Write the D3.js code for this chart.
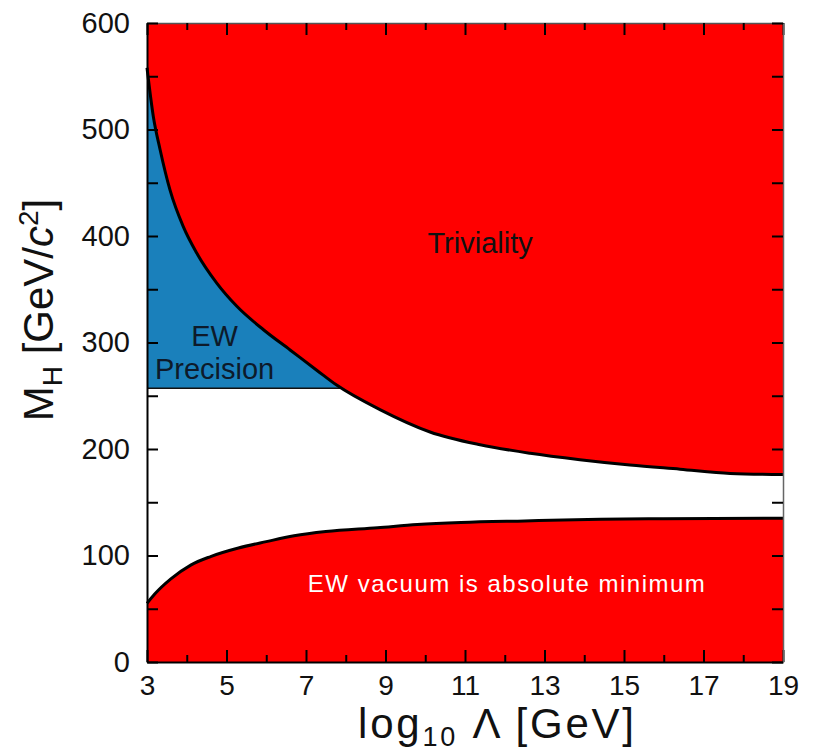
<!DOCTYPE html>
<html>
<head>
<meta charset="utf-8">
<script src="https://cdn.jsdelivr.net/npm/d3@7"></script>
<style>
body { margin:0; background:#fff; }
text { font-family: "Liberation Sans", Arial, Helvetica, sans-serif; }
</style>
</head>
<body>
<div id="chart"></div>
<script>
// triviality (upper) bound
var trivLog  = [3, 3.16, 3.33, 3.58, 3.91, 4.25, 4.75, 5.26, 5.93, 6.6, 7.27, 7.77, 8.86, 10.12, 11.38, 12.64, 13.89, 15.15, 16.41, 17.67, 19];
var trivMass = [558, 512, 481, 443, 409, 384, 356, 334, 312, 293, 274, 260, 237, 216, 204, 196, 190, 185, 181, 177, 176];
// vacuum stability (lower) bound
var vacLog  = [3, 3.2, 3.6, 4.1, 4.6, 5.3, 6, 6.7, 7.5, 8.8, 9.8, 10.9, 12.5, 14.4, 16, 19];
var vacMass = [55, 64, 78, 91, 99, 107, 113, 118.5, 122.5, 126, 129, 131, 132.5, 134, 134.5, 135];
var ewPrecision = 257;

var xMajor = [3, 5, 7, 9, 11, 13, 15, 17, 19];
var xMinor = [4, 6, 8, 10, 12, 14, 16, 18];
var yMajor = [0, 100, 200, 300, 400, 500, 600];
var yMinor = [50, 150, 250, 350, 450, 550];

var svg_width = 815, svg_height = 752;
var margin = {top: 23, left: 147, right: 32, bottom: 90};
var width = svg_width - margin.left - margin.right;
var height = svg_height - margin.top - margin.bottom;

var svg = d3.select("#chart").append("svg")
    .attr("width", svg_width)
    .attr("height", svg_height);

var g = svg.append("g")
    .attr("transform", `translate(${margin.left},${margin.top})`);

var x = d3.scaleLinear().domain([3, 19]).range([0, width]);
var y = d3.scaleLinear().domain([0, 600]).range([height, 0]);

var triv = trivLog.map((d, i) => ({l: d, m: trivMass[i]}));
var vac = vacLog.map((d, i) => ({l: d, m: vacMass[i]}));

var red = "#ff0000", blue = "#1a80bb";

// EW precision region (blue), under the triviality curve
g.append("path")
    .datum(triv)
    .attr("fill", blue)
    .attr("d", d3.area().x(d => x(d.l)).y0(y(ewPrecision)).y1(d => y(Math.max(d.m, ewPrecision))));

// triviality region
g.append("path")
    .datum(triv)
    .attr("fill", red)
    .attr("d", d3.area().x(d => x(d.l)).y0(y(600)).y1(d => y(d.m)).curve(d3.curveMonotoneX));

// vacuum region
g.append("path")
    .datum(vac)
    .attr("fill", red)
    .attr("d", d3.area().x(d => x(d.l)).y0(y(0)).y1(d => y(d.m)).curve(d3.curveMonotoneX));

// EW precision edge
var crossL = 7.9;
g.append("line")
    .attr("x1", x(3)).attr("x2", x(crossL))
    .attr("y1", y(ewPrecision)).attr("y2", y(ewPrecision))
    .attr("stroke", "#111").attr("stroke-width", 1.5);

var line = d3.line().x(d => x(d.l)).y(d => y(d.m)).curve(d3.curveMonotoneX);
g.append("path").datum(triv).attr("fill", "none").attr("stroke", "#000").attr("stroke-width", 3).attr("d", line);
g.append("path").datum(vac).attr("fill", "none").attr("stroke", "#000").attr("stroke-width", 3).attr("d", line);

// axes
function styleAxis(sel, col, w, fs) {
    sel.select(".domain").attr("stroke", col).attr("stroke-width", w);
    sel.selectAll(".tick line").attr("stroke", "#000").attr("stroke-width", 2);
    sel.selectAll("text").attr("font-size", fs || 28).attr("fill", "#111")
        .attr("font-family", "'Liberation Sans', Arial, sans-serif");
}

var bottom = g.append("g").attr("transform", `translate(0,${height})`)
    .call(d3.axisBottom(x).tickValues(xMajor).tickSizeInner(-12).tickSizeOuter(0).tickPadding(13));
styleAxis(bottom, "#000", 2, 28);
var bottomMinor = g.append("g").attr("transform", `translate(0,${height})`)
    .call(d3.axisBottom(x).tickValues(xMinor).tickSizeInner(-7).tickSizeOuter(0).tickFormat(""));
styleAxis(bottomMinor, "none", 0);

var top_ = g.append("g")
    .call(d3.axisTop(x).tickValues(xMajor).tickSizeInner(-12).tickSizeOuter(0).tickFormat(""));
styleAxis(top_, "#555", 1.5);
var topMinor = g.append("g")
    .call(d3.axisTop(x).tickValues(xMinor).tickSizeInner(-7).tickSizeOuter(0).tickFormat(""));
styleAxis(topMinor, "none", 0);

var left = g.append("g")
    .call(d3.axisLeft(y).tickValues(yMajor).tickSizeInner(-11).tickSizeOuter(0).tickPadding(17));
styleAxis(left, "#000", 2, 29);
var leftMinor = g.append("g")
    .call(d3.axisLeft(y).tickValues(yMinor).tickSizeInner(-11).tickSizeOuter(0).tickFormat(""));
styleAxis(leftMinor, "none", 0);

var right = g.append("g").attr("transform", `translate(${width},0)`)
    .call(d3.axisRight(y).tickValues(yMajor.concat(yMinor)).tickSizeInner(-11).tickSizeOuter(0).tickFormat(""));
styleAxis(right, "#666", 1.5);

// region labels
g.append("text")
    .attr("x", x(11.38)).attr("y", y(384))
    .attr("text-anchor", "middle").attr("font-size", 29).attr("fill", "#111")
    .text("Triviality");
g.append("text")
    .attr("x", x(4.7)).attr("y", y(297))
    .attr("text-anchor", "middle").attr("font-size", 29).attr("fill", "#0d1a2a")
    .text("EW");
g.append("text")
    .attr("x", x(4.7)).attr("y", y(266))
    .attr("text-anchor", "middle").attr("font-size", 29).attr("fill", "#0d1a2a")
    .text("Precision");
g.append("text")
    .attr("x", x(12.04)).attr("y", y(66))
    .attr("text-anchor", "middle").attr("font-size", 24).attr("fill", "#fff")
    .attr("textLength", 397).attr("lengthAdjust", "spacing")
    .text("EW vacuum is absolute minimum");

// axis titles
var xt = svg.append("text")
    .attr("x", 496).attr("y", 738)
    .attr("text-anchor", "middle").attr("font-size", 42).attr("fill", "#111")
    .attr("textLength", 276).attr("lengthAdjust", "spacing");
xt.append("tspan").text("log");
xt.append("tspan").attr("font-size", 27).attr("dy", 8).text("10");
xt.append("tspan").attr("dy", -8).text(" \u039b [GeV]");

var yt = svg.append("text")
    .attr("transform", "translate(53,310) rotate(-90)")
    .attr("text-anchor", "middle").attr("font-size", 42).attr("fill", "#111");
yt.append("tspan").text("M");
yt.append("tspan").attr("font-size", 28).attr("dy", 9).text("H");
yt.append("tspan").attr("dy", -9).text(" [GeV/");
yt.append("tspan").attr("font-style", "italic").text("c");
yt.append("tspan").attr("font-size", 28).attr("dy", -15).text("2");
yt.append("tspan").attr("dy", 15).text("]");
</script>
</body>
</html>
